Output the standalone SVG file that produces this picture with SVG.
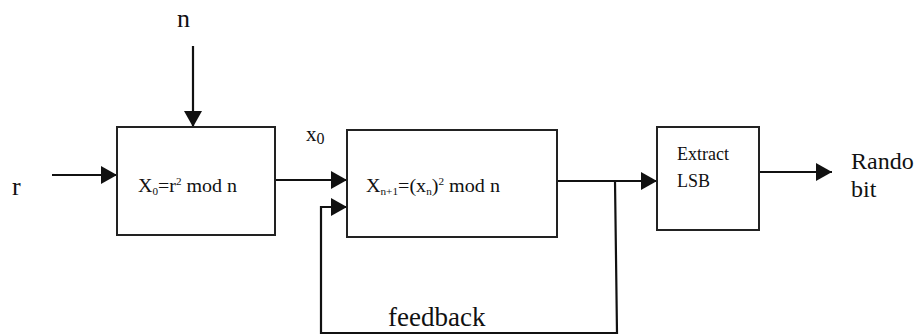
<svg xmlns="http://www.w3.org/2000/svg" width="917" height="336" viewBox="0 0 917 336">
<style>
.box{fill:#fff;stroke:#222;stroke-width:2}
.ln{fill:none;stroke:#111;stroke-width:2.2}
text{font-family:'Liberation Serif','Times New Roman','DejaVu Serif',serif;fill:#111}
</style>
<defs>
<marker id="ahb" markerWidth="16" markerHeight="18" refX="16" refY="9" orient="auto" markerUnits="userSpaceOnUse" viewBox="0 0 16 18">
<path d="M0,0 L16,9 L0,18 z" fill="#111"/>
</marker>
</defs>
<g id="connectors">
<line class="ln" x1="193" y1="46" x2="193" y2="127" marker-end="url(#ahb)"/>
<line class="ln" x1="52" y1="175" x2="117" y2="175" marker-end="url(#ahb)"/>
<line class="ln" x1="275" y1="180" x2="347" y2="180" marker-end="url(#ahb)"/>
<line class="ln" x1="557" y1="181" x2="657" y2="181" marker-end="url(#ahb)"/>
<line class="ln" x1="759" y1="172" x2="832" y2="172" marker-end="url(#ahb)"/>
<polyline class="ln" points="615,181 617,333 321,333 321,207 347,207" marker-end="url(#ahb)"/>
</g>
<g id="n-label"><text x="177" y="27" font-size="26">n</text></g>
<g id="r-label"><text x="12" y="195" font-size="26">r</text></g>
<g id="x0-label"><text x="306" y="141" font-size="21">x<tspan font-size="16" dy="3">0</tspan></text></g>
<g id="box1">
<rect class="box" x="117" y="127" width="158" height="108"/>
<text x="138" y="192" font-size="18" textLength="99" lengthAdjust="spacingAndGlyphs">X<tspan font-size="10" dy="3">0</tspan><tspan dy="-3">=r</tspan><tspan font-size="10" dy="-7">2</tspan><tspan dy="7"> mod n</tspan></text>
</g>
<g id="box2">
<rect class="box" x="347" y="130" width="210" height="107"/>
<text x="366" y="192" font-size="18" textLength="134" lengthAdjust="spacingAndGlyphs">X<tspan font-size="10" dy="3">n+1</tspan><tspan dy="-3">=(x</tspan><tspan font-size="10" dy="3">n</tspan><tspan dy="-3">)</tspan><tspan font-size="10" dy="-7">2</tspan><tspan dy="7"> mod n</tspan></text>
</g>
<g id="box3">
<rect class="box" x="657" y="127" width="102" height="103"/>
<text x="677" y="160" font-size="18">Extract</text>
<text x="677" y="187" font-size="18">LSB</text>
</g>
<g id="output-label">
<text x="851" y="169" font-size="24">Rando</text>
<text x="851" y="197" font-size="24">bit</text>
</g>
<g id="feedback-label"><text x="388" y="326" font-size="27">feedback</text></g>
</svg>
